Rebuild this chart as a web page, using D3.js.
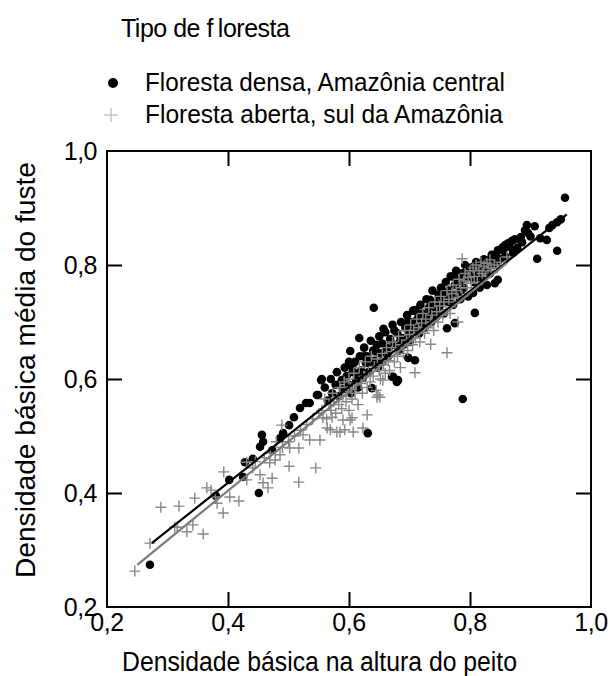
<!DOCTYPE html>
<html>
<head>
<meta charset="utf-8">
<script src="https://cdn.jsdelivr.net/npm/d3@7"></script>
<style>
  html, body { margin: 0; padding: 0; background: #fff; }
  svg { display: block; font-family: "Liberation Sans", Arial, sans-serif; }
</style>
</head>
<body>
<svg id="chart" width="608" height="676"></svg>
<script>
// Densidade básica: altura do peito (x) vs média do fuste (y)
const seriesNames = ["Floresta densa, Amazônia central", "Floresta aberta, sul da Amazônia"];
const tickValues = [0.2, 0.4, 0.6, 0.8, 1.0];
const tickLabels = ["0,2", "0,4", "0,6", "0,8", "1,0"];
const xTitle = "Densidade básica na altura do peito";
const yTitle = "Densidade básica média do fuste";

// Floresta densa, Amazônia central: [dap, fuste]
const densaX = [0.271,0.380,0.402,0.425,0.428,0.441,0.451,0.453,0.456,0.458,0.473,0.486,0.491,0.501,0.509,0.519,0.529,0.535,0.547,0.549,0.554,0.555,
  0.560,0.565,0.570,0.572,0.578,0.580,0.583,0.588,0.590,0.593,0.596,0.600,0.600,0.602,0.603,0.606,0.610,0.612,0.615,0.617,0.618,0.620,0.623,0.625,0.628,
  0.630,0.632,0.636,0.638,0.640,0.641,0.643,0.646,0.648,0.650,0.652,0.655,0.657,0.660,0.662,0.665,0.668,0.671,0.672,0.673,0.675,0.679,0.680,0.681,0.683,
  0.686,0.688,0.690,0.693,0.696,0.698,0.698,0.700,0.703,0.706,0.709,0.709,0.710,0.713,0.716,0.718,0.720,0.722,0.725,0.728,0.730,0.732,0.734,0.736,0.738,
  0.740,0.742,0.745,0.748,0.750,0.752,0.755,0.757,0.759,0.760,0.762,0.763,0.765,0.768,0.770,0.772,0.775,0.775,0.777,0.780,0.782,0.784,0.787,0.788,0.790,
  0.792,0.795,0.797,0.800,0.803,0.805,0.807,0.808,0.810,0.813,0.816,0.818,0.820,0.823,0.826,0.828,0.830,0.833,0.836,0.838,0.841,0.841,0.844,0.846,0.846,
  0.850,0.853,0.858,0.858,0.863,0.869,0.871,0.874,0.878,0.884,0.886,0.891,0.894,0.896,0.900,0.907,0.911,0.916,0.927,0.931,0.936,0.944,0.944,0.950,0.957,
  0.788,0.631,
  0.605,0.615,0.625,0.635,0.645,0.655,0.665,0.675,0.685,0.695,0.705,0.715,0.725,0.735,0.745,0.755,0.765,0.775,0.785,0.795,0.805,0.815,0.825,0.835,0.845,
  0.855,0.865];
const densaY = [0.274,0.395,0.423,0.428,0.454,0.460,0.400,0.481,0.502,0.490,0.475,0.496,0.505,0.519,0.533,0.549,0.558,0.558,0.572,0.572,0.598,0.600,
  0.585,0.562,0.600,0.575,0.590,0.612,0.570,0.598,0.582,0.620,0.605,0.590,0.630,0.649,0.575,0.612,0.630,0.598,0.585,0.672,0.640,0.615,0.602,0.655,0.628,
  0.640,0.612,0.667,0.584,0.650,0.725,0.632,0.660,0.620,0.675,0.645,0.630,0.688,0.682,0.655,0.640,0.670,0.604,0.695,0.604,0.660,0.595,0.680,0.598,0.650,
  0.700,0.672,0.660,0.690,0.712,0.680,0.637,0.665,0.700,0.720,0.721,0.633,0.690,0.705,0.680,0.730,0.700,0.715,0.690,0.740,0.712,0.725,0.739,0.700,0.755,
  0.720,0.735,0.710,0.748,0.728,0.760,0.740,0.715,0.751,0.770,0.689,0.735,0.755,0.780,0.747,0.730,0.765,0.698,0.790,0.750,0.772,0.740,0.774,0.786,0.760,
  0.800,0.778,0.745,0.790,0.796,0.751,0.770,0.716,0.805,0.785,0.760,0.798,0.775,0.810,0.790,0.765,0.805,0.785,0.818,0.800,0.803,0.768,0.815,0.826,0.774,
  0.810,0.830,0.835,0.815,0.838,0.842,0.821,0.845,0.830,0.849,0.840,0.861,0.870,0.856,0.850,0.868,0.811,0.847,0.844,0.865,0.870,0.875,0.825,0.880,0.918,
  0.565,0.505,
  0.622,0.610,0.640,0.628,0.648,0.662,0.652,0.685,0.668,0.698,0.688,0.715,0.705,0.728,0.722,0.750,0.738,0.778,0.755,0.790,0.778,0.800,0.795,0.812,0.805,
  0.826,0.832];

// Floresta aberta, sul da Amazônia: [dap, fuste]
const abertaX = [0.246,0.271,0.289,0.312,0.316,0.319,0.332,0.342,0.345,0.359,0.365,0.372,0.379,0.382,0.392,0.393,0.403,0.418,0.431,0.431,0.441,0.445,
  0.453,0.458,0.460,0.466,0.469,0.470,0.473,0.478,0.480,0.486,0.489,0.490,0.500,0.501,0.502,0.510,0.517,0.517,0.520,0.524,0.530,0.535,0.540,0.545,0.550,
  0.552,0.555,0.557,0.560,0.563,0.564,0.567,0.569,0.570,0.572,0.573,0.575,0.578,0.580,0.580,0.583,0.585,0.585,0.588,0.590,0.590,0.592,0.593,0.595,0.597,
  0.600,0.600,0.602,0.603,0.605,0.605,0.607,0.608,0.610,0.612,0.615,0.617,0.620,0.622,0.623,0.625,0.627,0.630,0.630,0.632,0.635,0.637,0.640,0.642,0.645,
  0.646,0.647,0.648,0.650,0.651,0.652,0.655,0.656,0.657,0.660,0.662,0.665,0.667,0.670,0.672,0.675,0.677,0.680,0.682,0.685,0.687,0.690,0.692,0.695,0.697,
  0.700,0.702,0.705,0.707,0.709,0.710,0.712,0.715,0.717,0.720,0.722,0.725,0.727,0.730,0.732,0.735,0.735,0.737,0.740,0.742,0.745,0.747,0.750,0.752,0.755,
  0.757,0.760,0.762,0.762,0.765,0.767,0.770,0.772,0.775,0.777,0.780,0.780,0.782,0.785,0.787,0.787,0.790,0.792,0.795,0.797,0.800,0.802,0.805,0.807,0.810,
  0.812,0.815,0.818,0.820,0.823,0.826,0.828,0.830,0.833,0.835,0.840,0.845,0.850,0.861];
const abertaY = [0.263,0.312,0.375,0.340,0.340,0.377,0.332,0.344,0.391,0.328,0.409,0.405,0.393,0.382,0.365,0.437,0.393,0.386,0.454,0.423,0.444,0.455,
  0.432,0.418,0.462,0.409,0.453,0.470,0.426,0.458,0.490,0.467,0.519,0.480,0.490,0.447,0.479,0.500,0.419,0.479,0.510,0.502,0.520,0.493,0.530,0.444,0.540,
  0.493,0.545,0.532,0.565,0.530,0.514,0.555,0.511,0.545,0.533,0.575,0.560,0.540,0.568,0.507,0.555,0.585,0.507,0.548,0.570,0.528,0.595,0.511,0.560,0.578,
  0.545,0.600,0.528,0.585,0.565,0.532,0.507,0.610,0.575,0.590,0.555,0.620,0.592,0.575,0.514,0.605,0.630,0.585,0.537,0.612,0.595,0.640,0.605,0.622,0.580,
  0.568,0.635,0.572,0.615,0.568,0.600,0.645,0.598,0.625,0.610,0.655,0.632,0.615,0.648,0.665,0.630,0.655,0.640,0.675,0.620,0.660,0.645,0.685,0.668,0.650,
  0.678,0.695,0.660,0.685,0.611,0.672,0.705,0.690,0.665,0.698,0.715,0.680,0.705,0.690,0.725,0.700,0.661,0.712,0.685,0.735,0.718,0.700,0.728,0.745,0.712,
  0.735,0.720,0.755,0.646,0.740,0.715,0.750,0.765,0.735,0.755,0.742,0.700,0.775,0.760,0.745,0.811,0.772,0.785,0.760,0.778,0.790,0.768,0.795,0.780,0.800,
  0.770,0.790,0.805,0.785,0.798,0.780,0.803,0.795,0.809,0.790,0.800,0.795,0.805,0.814];

// Retas de regressão: extremos em x e y
const fitDensaX = [0.274, 0.960];
const fitDensaY = [0.312, 0.889];
const fitAbertaX = [0.250, 0.861];
const fitAbertaY = [0.274, 0.8035];

const svg = d3.select("#chart");
const plotLeft = 107, plotRight = 591, plotTop = 151, plotBottom = 607;

const x = d3.scaleLinear().domain([0.2, 1.0]).range([plotLeft, plotRight]);
const y = d3.scaleLinear().domain([0.2, 1.0]).range([plotBottom, plotTop]);
const fmt = d => tickLabels[tickValues.findIndex(t => Math.abs(t - d) < 1e-9)];

// Marks
const plot = svg.append("g");
const densa = d3.zip(densaX, densaY);
const aberta = d3.zip(abertaX, abertaY);

plot.append("g").selectAll("circle").data(densa).join("circle")
  .attr("cx", d => x(d[0])).attr("cy", d => y(d[1])).attr("r", 4.3)
  .attr("fill", "#000");

const crossSize = 5.5;
plot.append("g").selectAll("path").data(aberta).join("path")
  .attr("d", d => `M${x(d[0]) - crossSize},${y(d[1])}H${x(d[0]) + crossSize}M${x(d[0])},${y(d[1]) - crossSize}V${y(d[1]) + crossSize}`)
  .attr("stroke", "#878787").attr("stroke-width", 1.4).attr("fill", "none");

const line = d3.line().x(d => x(d[0])).y(d => y(d[1]));
plot.append("path").datum(d3.zip(fitDensaX, fitDensaY)).attr("d", line)
  .attr("stroke", "#000").attr("stroke-width", 2.2).attr("fill", "none");
plot.append("path").datum(d3.zip(fitAbertaX, fitAbertaY)).attr("d", line)
  .attr("stroke", "#7a7a7a").attr("stroke-width", 2.2).attr("fill", "none");

// Axes: ticks pointing inward on all four sides
const inner = tickValues.slice(1, -1);
const tickLen = 15;
function styleAxis(g) {
  g.select(".domain").remove();
  g.selectAll(".tick line").attr("stroke", "#000").attr("stroke-width", 2);
}
svg.append("g").attr("transform", `translate(0,${plotBottom})`)
  .call(d3.axisBottom(x).tickValues(inner).tickSizeInner(-tickLen).tickFormat(""))
  .call(styleAxis);
svg.append("g").attr("transform", `translate(0,${plotTop})`)
  .call(d3.axisTop(x).tickValues(inner).tickSizeInner(-tickLen).tickFormat(""))
  .call(styleAxis);
svg.append("g").attr("transform", `translate(${plotLeft},0)`)
  .call(d3.axisLeft(y).tickValues(inner).tickSizeInner(-tickLen).tickFormat(""))
  .call(styleAxis);
svg.append("g").attr("transform", `translate(${plotRight},0)`)
  .call(d3.axisRight(y).tickValues(inner).tickSizeInner(-tickLen).tickFormat(""))
  .call(styleAxis);

svg.append("rect").attr("x", plotLeft).attr("y", plotTop)
  .attr("width", plotRight - plotLeft).attr("height", plotBottom - plotTop)
  .attr("fill", "none").attr("stroke", "#000").attr("stroke-width", 2);

// Tick labels
const labelSize = 25;
svg.append("g").selectAll("text").data(tickValues).join("text")
  .attr("x", d => x(d)).attr("y", plotBottom + 24)
  .attr("text-anchor", "middle").attr("font-size", labelSize).attr("fill", "#000")
  .attr("letter-spacing", -0.5)
  .text(fmt);
svg.append("g").selectAll("text").data(tickValues).join("text")
  .attr("x", plotLeft - 10).attr("y", d => y(d) + 9)
  .attr("text-anchor", "end").attr("font-size", labelSize).attr("fill", "#000")
  .attr("letter-spacing", -0.5)
  .text(fmt);

// Axis titles
svg.append("text").attr("x", 122).attr("y", 671)
  .attr("font-size", 27).attr("fill", "#000")
  .attr("textLength", 395).attr("lengthAdjust", "spacingAndGlyphs")
  .text(xTitle);
svg.append("text").attr("transform", `translate(35,578) rotate(-90)`)
  .attr("font-size", 28).attr("fill", "#000")
  .attr("textLength", 416).attr("lengthAdjust", "spacingAndGlyphs")
  .text(yTitle);

// Legend
const title = svg.append("text").attr("x", 121).attr("y", 37)
  .attr("font-size", 25).attr("fill", "#000").attr("letter-spacing", -0.5);
title.append("tspan").text("Tipo de f");
title.append("tspan").attr("dx", 5).text("loresta");

svg.append("circle").attr("cx", 113).attr("cy", 83).attr("r", 5).attr("fill", "#000");
svg.append("path").attr("d", "M104,115H118M111,108V122")
  .attr("stroke", "#aaa").attr("stroke-width", 1).attr("fill", "none");
svg.append("g").selectAll("text").data(seriesNames).join("text")
  .attr("x", 145).attr("y", (d, i) => 91 + i * 32)
  .attr("font-size", 26).attr("fill", "#000")
  .attr("textLength", (d, i) => i === 0 ? 360 : 358).attr("lengthAdjust", "spacingAndGlyphs")
  .text(d => d);
</script>
</body>
</html>
